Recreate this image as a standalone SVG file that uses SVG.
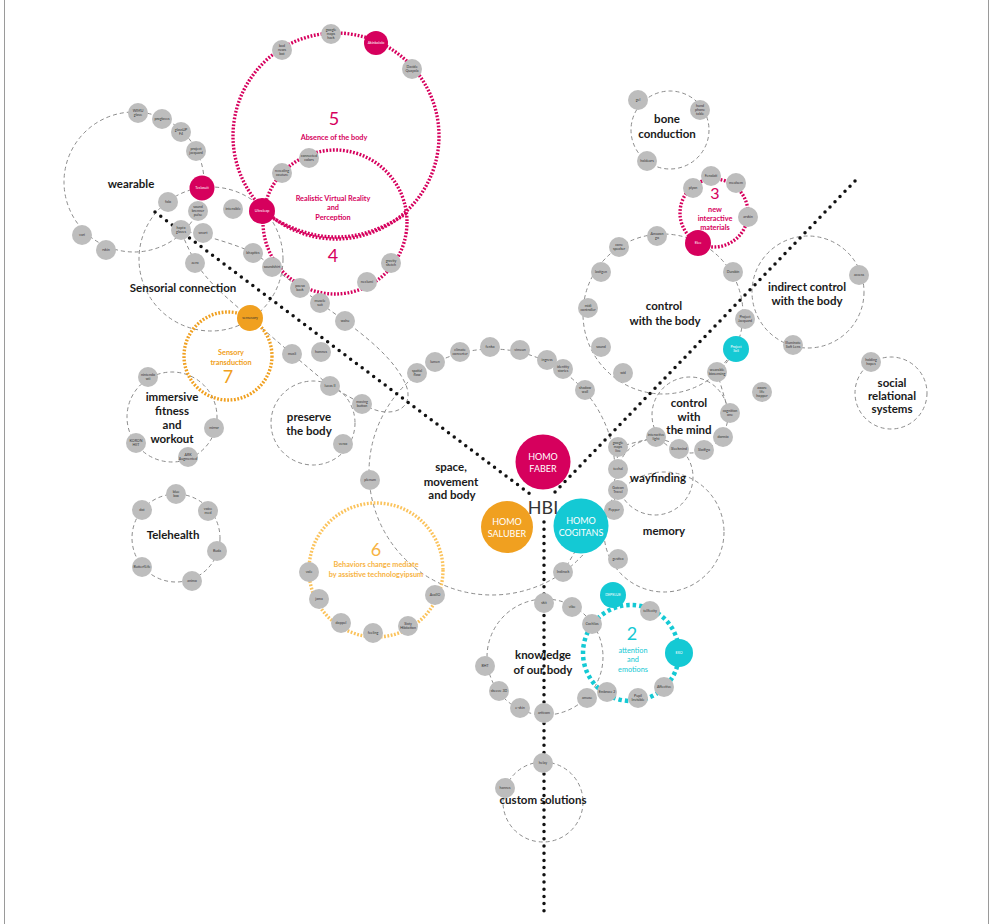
<svg xmlns="http://www.w3.org/2000/svg" width="993" height="924" viewBox="0 0 993 924">
<style>
.ring{fill:none;stroke:#8c8c8c;stroke-width:1;stroke-dasharray:4 3}
.mg{fill:none;stroke:#d6005d;stroke-width:3.4;stroke-dasharray:1.8 1.6}
.or{fill:none;stroke:#f0a020;stroke-width:3.4;stroke-dasharray:1.8 1.6}
.lo{fill:none;stroke:#fbc35c;stroke-width:3.4;stroke-dasharray:1.8 1.6}
.cy{fill:none;stroke:#14c9d4;stroke-width:4.5;stroke-dasharray:3.5 3}
.dot{fill:none;stroke:#111;stroke-width:3.5;stroke-linecap:round;stroke-dasharray:0 7.2}
.nd{fill:#bdbdbd}
.fm{fill:#d6005d}.fc{fill:#14c9d4}.fo{fill:#f0a020}
text{font-family:Lato,"Open Sans","Liberation Sans",sans-serif;text-anchor:middle}
.nt{font-size:3.6px;fill:#333}
.nw{font-size:3.6px;fill:#fff}
.lbl{font-weight:700;font-size:11.5px;fill:#1a1a1a}
.num{font-size:18px}
.sub{font-weight:700;font-size:7.3px}
.subn{font-size:7.3px}
.tm{fill:#d6005d}.tc{fill:#14c9d4}.to{fill:#f0a020}.tl{fill:#f7b343}
.homo{font-size:9px;fill:#fff}
</style>
<line x1="4.5" y1="0" x2="4.5" y2="924" stroke="#9a9a9a" stroke-width="1"/>
<line x1="988.5" y1="0" x2="988.5" y2="924" stroke="#9a9a9a" stroke-width="1"/>

<g id="connectors">
  <circle class="ring" cx="134" cy="182" r="70"/>
  <circle class="ring" cx="211" cy="259" r="72"/>
  <path class="ring" d="M181,230 C192,232 240,245 253,253 C262,258 268,263 272,267 L300,288 L320,303 L345,321 C370,340 395,360 406,385 C412,400 405,413 385,412 C375,411 368,407 362,404 L330,386 L292,354 L250,318 C230,300 210,285 196,263 C190,252 184,240 181,230 Z"/>
  <circle class="ring" cx="313" cy="423" r="42"/>
  <circle class="ring" cx="172" cy="417" r="45"/>
  <circle class="ring" cx="176" cy="538" r="44"/>
  <circle class="ring" cx="492" cy="472" r="123"/>
  <circle class="ring" cx="670" cy="130" r="39"/>
  <circle class="ring" cx="663" cy="314" r="80"/>
  <circle class="ring" cx="808" cy="292" r="56"/>
  <circle class="ring" cx="891" cy="393" r="36"/>
  <circle class="ring" cx="690" cy="415" r="38"/>
  <circle class="ring" cx="655" cy="477" r="38"/>
  <circle class="ring" cx="664" cy="532" r="60"/>
  <circle class="ring" cx="545" cy="657" r="58"/>
  <circle class="ring" cx="543" cy="802" r="40"/>
  <line class="ring" x1="736" y1="349" x2="717" y2="372"/>
  <line class="ring" x1="717" y1="372" x2="729" y2="413"/>
  <line class="ring" x1="656" y1="437" x2="618" y2="447"/>
  <line class="ring" x1="618" y1="447" x2="614" y2="510"/>
  <line class="ring" x1="563" y1="572" x2="576" y2="550"/>
  <circle class="mg" cx="336" cy="136" r="103"/>
  <circle class="mg" cx="335" cy="222" r="72"/>
  <path class="mg" d="M262,211 Q335,262 407,213"/>
  <circle class="mg" cx="714" cy="213" r="34"/>
  <circle class="or" cx="228" cy="356" r="44"/>
  <circle class="lo" cx="376" cy="570" r="67"/>
  <circle class="cy" cx="631" cy="653" r="48"/>
</g>

<g id="labels">
  <text class="lbl" x="131" y="188">wearable</text>
  <text class="lbl" x="183" y="292">Sensorial connection</text>
  <text class="lbl" x="667" y="123">bone</text>
  <text class="lbl" x="667" y="138">conduction</text>
  <text class="lbl" x="664" y="310">control</text>
  <text class="lbl" x="665" y="325">with the body</text>
  <text class="lbl" x="807" y="291">indirect control</text>
  <text class="lbl" x="807" y="305">with the body</text>
  <text class="lbl" x="892" y="387">social</text>
  <text class="lbl" x="892" y="400">relational</text>
  <text class="lbl" x="892" y="413">systems</text>
  <text class="lbl" x="172" y="401">immersive</text>
  <text class="lbl" x="172" y="415">fitness</text>
  <text class="lbl" x="172" y="429">and</text>
  <text class="lbl" x="172" y="443">workout</text>
  <text class="lbl" x="309" y="421">preserve</text>
  <text class="lbl" x="309" y="435">the body</text>
  <text class="lbl" x="451" y="471">space,</text>
  <text class="lbl" x="451" y="486">movement</text>
  <text class="lbl" x="452" y="499">and body</text>
  <text class="lbl" x="689" y="407">control</text>
  <text class="lbl" x="689" y="421">with</text>
  <text class="lbl" x="689" y="434">the mind</text>
  <text class="lbl" x="658" y="482">wayfinding</text>
  <text class="lbl" x="664" y="535">memory</text>
  <text class="lbl" x="173" y="539">Telehealth</text>
  <text class="lbl" x="543" y="659">knowledge</text>
  <text class="lbl" x="543" y="674">of our body</text>
  <text class="lbl" x="543" y="804">custom solutions</text>
  <text class="num tm" x="334" y="125">5</text>
  <text class="sub tm" x="334" y="140">Absence of the body</text>
  <text class="sub tm" x="333" y="201">Realistic Virtual Reality</text>
  <text class="sub tm" x="333" y="210">and</text>
  <text class="sub tm" x="333" y="220">Perception</text>
  <text class="num tm" x="333" y="262">4</text>
  <text class="tm" x="715" y="199" font-size="16">3</text>
  <text class="sub tm" x="715" y="212">new</text>
  <text class="sub tm" x="715" y="221">interactive</text>
  <text class="sub tm" x="715" y="230">materials</text>
  <text class="sub to" x="231" y="355">Sensory</text>
  <text class="sub to" x="231" y="365">transduction</text>
  <text class="num to" x="228" y="383">7</text>
  <text class="num tl" x="376" y="556">6</text>
  <text class="sub tl" x="376" y="567">Behaviors change mediate</text>
  <text class="sub tl" x="376" y="577">by assistive technologyipsum</text>
  <text class="num tc" x="632" y="640">2</text>
  <text class="subn tc" x="633" y="653">attention</text>
  <text class="subn tc" x="633" y="662">and</text>
  <text class="subn tc" x="633" y="672">emotions</text>
</g>

<g id="axes">
  <line class="dot" x1="155" y1="212" x2="530" y2="494"/>
  <line class="dot" x1="855" y1="181" x2="553" y2="494"/>
  <line class="dot" x1="544" y1="522" x2="544" y2="912"/>
</g>

<g id="nodes">
<g id="n-wimu" transform="translate(138,113)"><circle class="nd" r="10"/><text class="nt"><tspan x="0" y="-0.7">WIMU</tspan><tspan x="0" y="3.3">glove</tspan></text></g>
<g id="n-progloves" transform="translate(162,119)"><circle class="nd" r="10"/><text class="nt" y="1.3">progloves</text></g>
<g id="n-glassup" transform="translate(181,132)"><circle class="nd" r="10"/><text class="nt"><tspan x="0" y="-0.7">glassUP</tspan><tspan x="0" y="3.3">F4</tspan></text></g>
<g id="n-pjacq1" transform="translate(196,151)"><circle class="nd" r="10"/><text class="nt"><tspan x="0" y="-0.7">project</tspan><tspan x="0" y="3.3">jacquard</tspan></text></g>
<g id="n-teslasuit" transform="translate(202,188)"><circle class="fm" r="12.5"/><text class="nw" y="1.3">Teslasuit</text></g>
<g id="n-folo" transform="translate(168,202)"><circle class="nd" r="10"/><text class="nt" y="1.3">folo</text></g>
<g id="n-vari" transform="translate(82,235)"><circle class="nd" r="10"/><text class="nt" y="1.3">vari</text></g>
<g id="n-rskin" transform="translate(106,250)"><circle class="nd" r="10"/><text class="nt" y="1.3">rskin</text></g>
<g id="n-soundbrenner" transform="translate(198,211)"><circle class="nd" r="10"/><text class="nt"><tspan x="0" y="-2.8">sound</tspan><tspan x="0" y="1.2">brenner</tspan><tspan x="0" y="5.2">pulse</tspan></text></g>
<g id="n-haptx" transform="translate(181,230)"><circle class="nd" r="10"/><text class="nt"><tspan x="0" y="-0.7">haptx</tspan><tspan x="0" y="3.3">gloves</tspan></text></g>
<g id="n-smart" transform="translate(203,233)"><circle class="nd" r="10"/><text class="nt" y="1.3">smart</text></g>
<g id="n-intensible" transform="translate(233,209)"><circle class="nd" r="10"/><text class="nt" y="1.3">intensible</text></g>
<g id="n-ultraleap" transform="translate(262,211)"><circle class="fm" r="13"/><text class="nw" y="1.3">Ultraleap</text></g>
<g id="n-aero" transform="translate(195,263)"><circle class="nd" r="10"/><text class="nt" y="1.3">aero</text></g>
<g id="n-bhaptics" transform="translate(253,253)"><circle class="nd" r="10"/><text class="nt" y="1.3">bhaptics</text></g>
<g id="n-soundshirt" transform="translate(272,267)"><circle class="nd" r="10"/><text class="nt" y="1.3">soundshirt</text></g>
<g id="n-revealing" transform="translate(282,173)"><circle class="nd" r="10"/><text class="nt"><tspan x="0" y="-0.7">revealing</tspan><tspan x="0" y="3.3">couture</tspan></text></g>
<g id="n-connected" transform="translate(309,158)"><circle class="nd" r="10"/><text class="nt"><tspan x="0" y="-0.7">connected</tspan><tspan x="0" y="3.3">colors</tspan></text></g>
<g id="n-poeso" transform="translate(300,288)"><circle class="nd" r="10"/><text class="nt"><tspan x="0" y="-0.7">poeso</tspan><tspan x="0" y="3.3">back</tspan></text></g>
<g id="n-muscle" transform="translate(320,303)"><circle class="nd" r="10"/><text class="nt"><tspan x="0" y="-0.7">muscle</tspan><tspan x="0" y="3.3">suit</tspan></text></g>
<g id="n-wahu" transform="translate(345,321)"><circle class="nd" r="10"/><text class="nt" y="1.3">wahu</text></g>
<g id="n-neclumi" transform="translate(367,282)"><circle class="nd" r="10"/><text class="nt" y="1.3">neclumi</text></g>
<g id="n-gravity" transform="translate(391,263)"><circle class="nd" r="10"/><text class="nt"><tspan x="0" y="-0.7">gravity</tspan><tspan x="0" y="3.3">sketch</tspan></text></g>
<g id="n-badnews" transform="translate(282,50)"><circle class="nd" r="10"/><text class="nt"><tspan x="0" y="-2.8">bad</tspan><tspan x="0" y="1.2">news</tspan><tspan x="0" y="5.2">bot</tspan></text></g>
<g id="n-gmhack" transform="translate(331,34)"><circle class="nd" r="10"/><text class="nt"><tspan x="0" y="-2.8">google</tspan><tspan x="0" y="1.2">maps</tspan><tspan x="0" y="5.2">hack</tspan></text></g>
<g id="n-akin" transform="translate(376,43)"><circle class="fm" r="12"/><text class="nw" y="1.3">Akinbalolo</text></g>
<g id="n-davide" transform="translate(412,69)"><circle class="nd" r="10"/><text class="nt"><tspan x="0" y="-0.7">Davide</tspan><tspan x="0" y="3.3">Quayola</tspan></text></g>
<g id="n-gel" transform="translate(638,100)"><circle class="nd" r="10"/><text class="nt" y="1.3">gel</text></g>
<g id="n-handphone" transform="translate(700,110)"><circle class="nd" r="10"/><text class="nt"><tspan x="0" y="-2.8">hand</tspan><tspan x="0" y="1.2">phone</tspan><tspan x="0" y="5.2">table</tspan></text></g>
<g id="n-holdears" transform="translate(647,161)"><circle class="nd" r="10"/><text class="nt" y="1.3">holdears</text></g>
<g id="n-plyon" transform="translate(693,188)"><circle class="nd" r="10"/><text class="nt" y="1.3">plyon</text></g>
<g id="n-fenolati" transform="translate(711,176)"><circle class="nd" r="10"/><text class="nt" y="1.3">Fenolati</text></g>
<g id="n-mealsem" transform="translate(736,183)"><circle class="nd" r="10"/><text class="nt" y="1.3">mealsem</text></g>
<g id="n-arskin" transform="translate(748,217)"><circle class="nd" r="10"/><text class="nt" y="1.3">arskin</text></g>
<g id="n-elee" transform="translate(698,243)"><circle class="fm" r="13"/><text class="nw" y="1.3">Elee</text></g>
<g id="n-amazon" transform="translate(657,236)"><circle class="nd" r="10"/><text class="nt"><tspan x="0" y="-0.7">Amazon</tspan><tspan x="0" y="3.3">go</tspan></text></g>
<g id="n-cone" transform="translate(619,247)"><circle class="nd" r="10"/><text class="nt"><tspan x="0" y="-0.7">cone</tspan><tspan x="0" y="3.3">speaker</tspan></text></g>
<g id="n-lastigen" transform="translate(601,272)"><circle class="nd" r="10"/><text class="nt" y="1.3">lastigen</text></g>
<g id="n-midi" transform="translate(588,308)"><circle class="nd" r="10"/><text class="nt"><tspan x="0" y="-0.7">midi</tspan><tspan x="0" y="3.3">controller</tspan></text></g>
<g id="n-sound" transform="translate(601,347)"><circle class="nd" r="10"/><text class="nt" y="1.3">sound</text></g>
<g id="n-wid" transform="translate(623,373)"><circle class="nd" r="10"/><text class="nt" y="1.3">wid</text></g>
<g id="n-durabin" transform="translate(733,272)"><circle class="nd" r="10"/><text class="nt" y="1.3">Durabin</text></g>
<g id="n-pjacq2" transform="translate(745,319)"><circle class="nd" r="10"/><text class="nt"><tspan x="0" y="-0.7">Project</tspan><tspan x="0" y="3.3">Jacquard</tspan></text></g>
<g id="n-soli" transform="translate(736,349)"><circle class="fc" r="13"/><text class="nw"><tspan x="0" y="-0.7">Project</tspan><tspan x="0" y="3.3">Soli</tspan></text></g>
<g id="n-wbio" transform="translate(717,372)"><circle class="nd" r="10"/><text class="nt"><tspan x="0" y="-0.7">wearable</tspan><tspan x="0" y="3.3">biosensing</tspan></text></g>
<g id="n-access" transform="translate(859,275)"><circle class="nd" r="10"/><text class="nt" y="1.3">access</text></g>
<g id="n-illuminate" transform="translate(793,345)"><circle class="nd" r="10"/><text class="nt"><tspan x="0" y="-0.7">Illuminate</tspan><tspan x="0" y="3.3">Soft Lens</tspan></text></g>
<g id="n-aware" transform="translate(762,392)"><circle class="nd" r="10"/><text class="nt"><tspan x="0" y="-2.8">aware</tspan><tspan x="0" y="1.2">life</tspan><tspan x="0" y="5.2">hopper</tspan></text></g>
<g id="n-holding" transform="translate(871,362)"><circle class="nd" r="10"/><text class="nt"><tspan x="0" y="-0.7">holding</tspan><tspan x="0" y="3.3">hopes</tspan></text></g>
<g id="n-cognition" transform="translate(730,413)"><circle class="nd" r="10"/><text class="nt"><tspan x="0" y="-0.7">cognition</tspan><tspan x="0" y="3.3">one</tspan></text></g>
<g id="n-dormio" transform="translate(723,437)"><circle class="nd" r="10"/><text class="nt" y="1.3">dormio</text></g>
<g id="n-slotego" transform="translate(704,450)"><circle class="nd" r="10"/><text class="nt" y="1.3">SlotEgo</text></g>
<g id="n-sleekmind" transform="translate(679,449)"><circle class="nd" r="10"/><text class="nt" y="1.3">Sleekmind</text></g>
<g id="n-intlight" transform="translate(656,437)"><circle class="nd" r="10"/><text class="nt"><tspan x="0" y="-0.7">interactive</tspan><tspan x="0" y="3.3">light</tspan></text></g>
<g id="n-gmlive" transform="translate(618,447)"><circle class="nd" r="10"/><text class="nt"><tspan x="0" y="-2.8">google</tspan><tspan x="0" y="1.2">maps</tspan><tspan x="0" y="5.2">live</tspan></text></g>
<g id="n-techal" transform="translate(618,469)"><circle class="nd" r="10"/><text class="nt" y="1.3">techal</text></g>
<g id="n-gatcon" transform="translate(618,490)"><circle class="nd" r="10"/><text class="nt"><tspan x="0" y="-0.7">Gatcon</tspan><tspan x="0" y="3.3">Travel</tspan></text></g>
<g id="n-pepper" transform="translate(614,510)"><circle class="nd" r="10"/><text class="nt" y="1.3">Pepper</text></g>
<g id="n-gestica" transform="translate(618,559)"><circle class="nd" r="10"/><text class="nt" y="1.3">gestica</text></g>
<g id="n-spatial" transform="translate(417,373)"><circle class="nd" r="10"/><text class="nt"><tspan x="0" y="-0.7">spatial</tspan><tspan x="0" y="3.3">flow</tspan></text></g>
<g id="n-lumen" transform="translate(435,362)"><circle class="nd" r="10"/><text class="nt" y="1.3">lumen</text></g>
<g id="n-climate" transform="translate(460,352)"><circle class="nd" r="10"/><text class="nt"><tspan x="0" y="-0.7">climate</tspan><tspan x="0" y="3.3">converter</tspan></text></g>
<g id="n-fenko" transform="translate(490,347)"><circle class="nd" r="10"/><text class="nt" y="1.3">fenko</text></g>
<g id="n-vimeun" transform="translate(520,350)"><circle class="nd" r="10"/><text class="nt" y="1.3">vimeun</text></g>
<g id="n-ingress" transform="translate(547,360)"><circle class="nd" r="10"/><text class="nt" y="1.3">ingress</text></g>
<g id="n-identity" transform="translate(563,369)"><circle class="nd" r="10"/><text class="nt"><tspan x="0" y="-0.7">identity</tspan><tspan x="0" y="3.3">stories</tspan></text></g>
<g id="n-shadow" transform="translate(585,390)"><circle class="nd" r="10"/><text class="nt"><tspan x="0" y="-0.7">shadow</tspan><tspan x="0" y="3.3">wall</tspan></text></g>
<g id="n-plenum" transform="translate(370,480)"><circle class="nd" r="10"/><text class="nt" y="1.3">plenum</text></g>
<g id="n-indirack" transform="translate(563,572)"><circle class="nd" r="10"/><text class="nt" y="1.3">Indirack</text></g>
<g id="n-sensory" transform="translate(250,318)"><circle class="fo" r="13"/><text class="nt" y="1.3">sensesory</text></g>
<g id="n-musli" transform="translate(292,354)"><circle class="nd" r="10"/><text class="nt" y="1.3">musli</text></g>
<g id="n-hamnes" transform="translate(321,352)"><circle class="nd" r="10"/><text class="nt" y="1.3">hamnes</text></g>
<g id="n-lucas" transform="translate(330,386)"><circle class="nd" r="10"/><text class="nt" y="1.3">lucas II</text></g>
<g id="n-moving" transform="translate(362,404)"><circle class="nd" r="10"/><text class="nt"><tspan x="0" y="-0.7">moving</tspan><tspan x="0" y="3.3">button</tspan></text></g>
<g id="n-verax" transform="translate(343,444)"><circle class="nd" r="10"/><text class="nt" y="1.3">verax</text></g>
<g id="n-wii" transform="translate(148,377)"><circle class="nd" r="10"/><text class="nt"><tspan x="0" y="-0.7">nintendo</tspan><tspan x="0" y="3.3">wii</tspan></text></g>
<g id="n-mirror" transform="translate(214,428)"><circle class="nd" r="10"/><text class="nt" y="1.3">mirror</text></g>
<g id="n-ark" transform="translate(188,457)"><circle class="nd" r="10"/><text class="nt"><tspan x="0" y="-0.7">ARK</tspan><tspan x="0" y="3.3">Augmented</tspan></text></g>
<g id="n-koron" transform="translate(136,443)"><circle class="nd" r="10"/><text class="nt"><tspan x="0" y="-0.7">KORON</tspan><tspan x="0" y="3.3">HIIT</tspan></text></g>
<g id="n-bluebox" transform="translate(176,494)"><circle class="nd" r="10"/><text class="nt"><tspan x="0" y="-0.7">blue</tspan><tspan x="0" y="3.3">box</tspan></text></g>
<g id="n-voicemed" transform="translate(208,511)"><circle class="nd" r="10"/><text class="nt"><tspan x="0" y="-0.7">voice</tspan><tspan x="0" y="3.3">med</tspan></text></g>
<g id="n-buda" transform="translate(217,551)"><circle class="nd" r="10"/><text class="nt" y="1.3">Buda</text></g>
<g id="n-animo" transform="translate(192,581)"><circle class="nd" r="10"/><text class="nt" y="1.3">animo</text></g>
<g id="n-butterflife" transform="translate(142,567)"><circle class="nd" r="10"/><text class="nt" y="1.3">ButterfLife</text></g>
<g id="n-dot" transform="translate(142,510)"><circle class="nd" r="10"/><text class="nt" y="1.3">dot</text></g>
<g id="n-vole" transform="translate(309,572)"><circle class="nd" r="10"/><text class="nt" y="1.3">vole</text></g>
<g id="n-jama" transform="translate(319,599)"><circle class="nd" r="10"/><text class="nt" y="1.3">jama</text></g>
<g id="n-doppel" transform="translate(341,623)"><circle class="nd" r="10"/><text class="nt" y="1.3">doppel</text></g>
<g id="n-feeling" transform="translate(373,633)"><circle class="nd" r="10"/><text class="nt" y="1.3">feeling</text></g>
<g id="n-sixty" transform="translate(408,626)"><circle class="nd" r="10"/><text class="nt"><tspan x="0" y="-0.7">Sixty</tspan><tspan x="0" y="3.3">Hibitation</tspan></text></g>
<g id="n-avaiio" transform="translate(435,595)"><circle class="nd" r="10"/><text class="nt" y="1.3">AvaIIO</text></g>
<g id="n-skit" transform="translate(544,603)"><circle class="nd" r="10"/><text class="nt" y="1.3">skit</text></g>
<g id="n-vibe" transform="translate(572,607)"><circle class="nd" r="10"/><text class="nt" y="1.3">vibe</text></g>
<g id="n-cochlias" transform="translate(592,624)"><circle class="nd" r="10"/><text class="nt" y="1.3">Cochlias</text></g>
<g id="n-bht" transform="translate(485,666)"><circle class="nd" r="10"/><text class="nt" y="1.3">BHT</text></g>
<g id="n-skeeve" transform="translate(499,691)"><circle class="nd" r="10"/><text class="nt" y="1.3">skeeve 3D</text></g>
<g id="n-eskin" transform="translate(520,708)"><circle class="nd" r="10"/><text class="nt" y="1.3">e-skin</text></g>
<g id="n-articom" transform="translate(544,713)"><circle class="nd" r="10"/><text class="nt" y="1.3">articom</text></g>
<g id="n-amuse" transform="translate(587,698)"><circle class="nd" r="10"/><text class="nt" y="1.3">amuse</text></g>
<g id="n-embrace" transform="translate(607,692)"><circle class="nd" r="10"/><text class="nt" y="1.3">Embrace 2</text></g>
<g id="n-pupil" transform="translate(638,698)"><circle class="nd" r="10"/><text class="nt"><tspan x="0" y="-0.7">Pupil</tspan><tspan x="0" y="3.3">Invisible</tspan></text></g>
<g id="n-affective" transform="translate(664,687)"><circle class="nd" r="10"/><text class="nt" y="1.3">Affective</text></g>
<g id="n-depelue" transform="translate(613,595)"><circle class="fc" r="13"/><text class="nw" y="1.3">DEPELUE</text></g>
<g id="n-tellfecity" transform="translate(650,611)"><circle class="nd" r="10"/><text class="nt" y="1.3">tellfecity</text></g>
<g id="n-exo" transform="translate(679,653)"><circle class="fc" r="14"/><text class="nw" y="1.3">EXO</text></g>
<g id="n-helay" transform="translate(543,763)"><circle class="nd" r="10"/><text class="nt" y="1.3">helay</text></g>
<g id="n-hannes" transform="translate(505,788)"><circle class="nd" r="10"/><text class="nt" y="1.3">hannes</text></g>
</g>

<g id="homo">
  <g id="homo-faber"><circle cx="543" cy="462" r="27.5" fill="#d6005d"/><text class="homo" x="543" y="460">HOMO</text><text class="homo" x="543" y="472">FABER</text></g>
  <g id="homo-saluber"><circle cx="507" cy="527" r="26" fill="#f0a020"/><text class="homo" x="507" y="525">HOMO</text><text class="homo" x="507" y="537">SALUBER</text></g>
  <g id="homo-cogitans"><circle cx="581" cy="526" r="27.5" fill="#14c9d4"/><text class="homo" x="581" y="524">HOMO</text><text class="homo" x="581" y="536">COGITANS</text></g>
  <text x="543" y="514" font-size="18" fill="#333">HBI</text>
</g>
</svg>
